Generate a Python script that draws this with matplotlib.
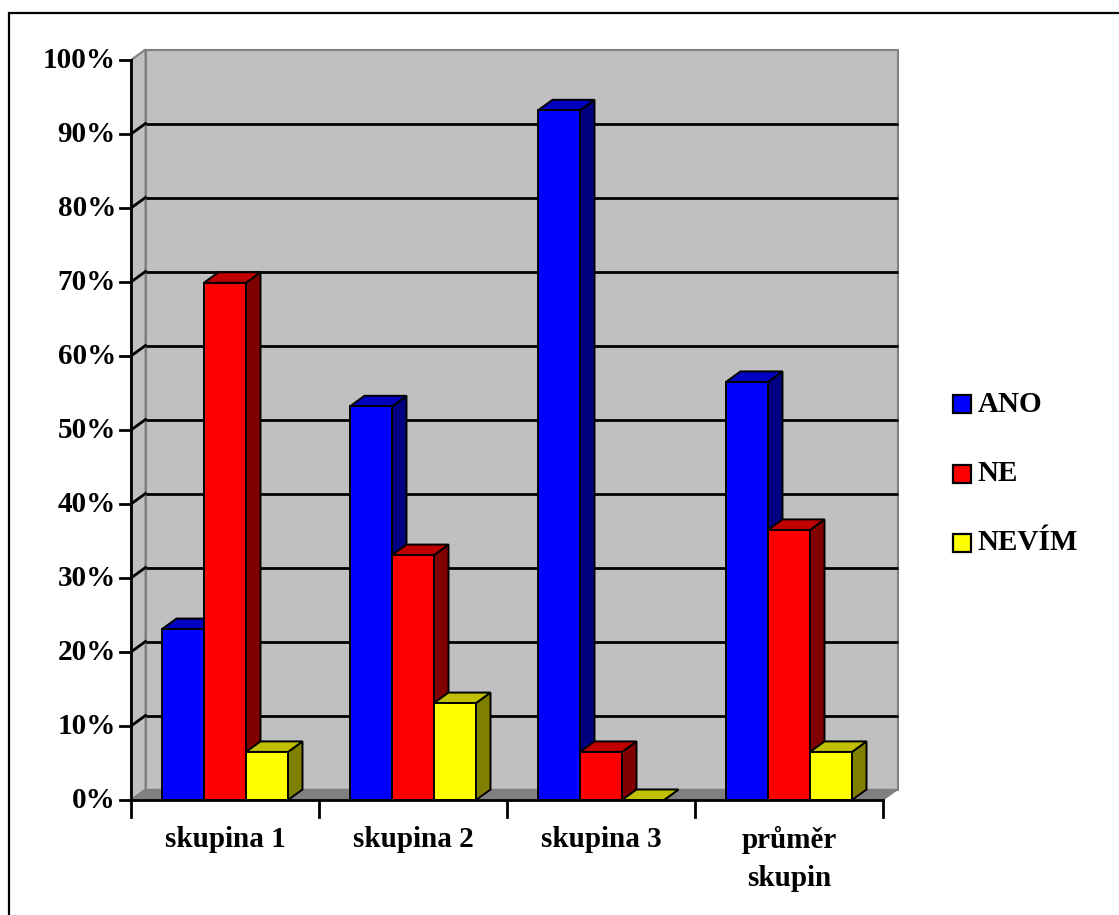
import matplotlib
matplotlib.use('Agg')
import matplotlib.pyplot as plt
from matplotlib.patches import Polygon, Rectangle

plt.rcParams['font.family'] = ['Liberation Serif', 'DejaVu Serif']
plt.rcParams['font.weight'] = 'bold'

skupiny = ['skupina 1', 'skupina 2', 'skupina 3', 'průměr\nskupin']
serie = ['ANO', 'NE', 'NEVÍM']
ano = [23.1, 53.2, 93.2, 56.5]
ne = [69.9, 33.1, 6.5, 36.5]
nevim = [6.5, 13.1, 0.0, 6.5]

barvy = ['#0000FF', '#FF0000', '#FFFF00']
boky = ['#000080', '#800000', '#808000']
vrchy = ['#0000C0', '#C00000', '#C0C000']

fs = 21

fig = plt.figure(figsize=(11.19, 9.15), dpi=100)
fig.patches.append(Rectangle((9 / 1119, -0.01), 1.02, (915 - 13) / 915 + 0.01,
                             transform=fig.transFigure, fill=False,
                             edgecolor='black', lw=1.6))

ax = fig.add_axes([131 / 1119, 115 / 915, 752 / 1119, 740 / 915])
ax.set_xlim(0, 4)
ax.set_ylim(0, 100)
ax.axis('off')

# hloubka 3D efektu v datovych jednotkach
dx = 14.5 / 188.0
dy = -10.5 / 7.4

def poly(pts, fc, ec='black', lw=1.4, z=1):
    ax.add_patch(Polygon(pts, closed=True, facecolor=fc, edgecolor=ec,
                         lw=lw, zorder=z, clip_on=False, joinstyle='miter'))

# zadni stena, bocni stena, podlaha
poly([(dx, -dy), (4 + dx, -dy), (4 + dx, 100 - dy), (dx, 100 - dy)],
     '#C0C0C0', ec='#808080', lw=1.5, z=0)
poly([(0, 0), (dx, -dy), (dx, 100 - dy), (0, 100)],
     '#C0C0C0', ec='#808080', lw=1.5, z=0)
poly([(0, 0), (4, 0), (4 + dx, -dy), (dx, -dy)],
     '#808080', ec='#808080', lw=1.0, z=0.5)

# mrizka
for v in range(10, 100, 10):
    ax.plot([dx, 4 + dx], [v - dy, v - dy], color='black', lw=2, zorder=0.6,
            clip_on=False, solid_capstyle='butt')
    ax.plot([0, dx], [v, v - dy], color='black', lw=2, zorder=0.6,
            clip_on=False)

# sloupce
w = 42 / 188.0
z = 2
for i in range(len(skupiny)):
    hodnoty = [ano[i], ne[i], nevim[i]]
    x0 = i + 0.5 - 1.5 * w
    for j, h in enumerate(hodnoty):
        xl = x0 + j * w
        xr = xl + w
        poly([(xr, 0), (xr + dx, -dy), (xr + dx, h - dy), (xr, h)], boky[j], z=z)
        poly([(xl, h), (xr, h), (xr + dx, h - dy), (xl + dx, h - dy)], vrchy[j], z=z)
        if h > 0:
            poly([(xl, 0), (xr, 0), (xr, h), (xl, h)], barvy[j], z=z)
        z += 1

# osy
ax.plot([0, 0], [0, 100], color='black', lw=2, clip_on=False, zorder=50)
ax.plot([0, 4], [0, 0], color='black', lw=2, clip_on=False, zorder=50)
for v in range(0, 101, 10):
    ax.plot([-11 / 188.0, 0], [v, v], color='black', lw=2, clip_on=False, zorder=50)
    ax.text(-15 / 188.0, v, '%d%%' % v, ha='right', va='center', fontsize=fs,
            fontweight='bold')
for k in range(5):
    ax.plot([k, k], [0, -17 / 7.4], color='black', lw=2, clip_on=False, zorder=50)
for i, s in enumerate(skupiny):
    ax.text(i + 0.5, -26 / 7.4, s, ha='center', va='top', fontsize=fs,
            fontweight='bold', linespacing=1.5)

# legenda
for j, s in enumerate(serie):
    yl = 404 + j * 69.5
    fig.patches.append(Rectangle((953 / 1119, 1 - (yl + 9) / 915), 18 / 1119, 18 / 915,
                                 transform=fig.transFigure, facecolor=barvy[j],
                                 edgecolor='black', lw=1.6))
    fig.text(978 / 1119, 1 - yl / 915, s, ha='left', va='center', fontsize=fs,
             fontweight='bold')

fig.savefig('out.png', dpi=100)
